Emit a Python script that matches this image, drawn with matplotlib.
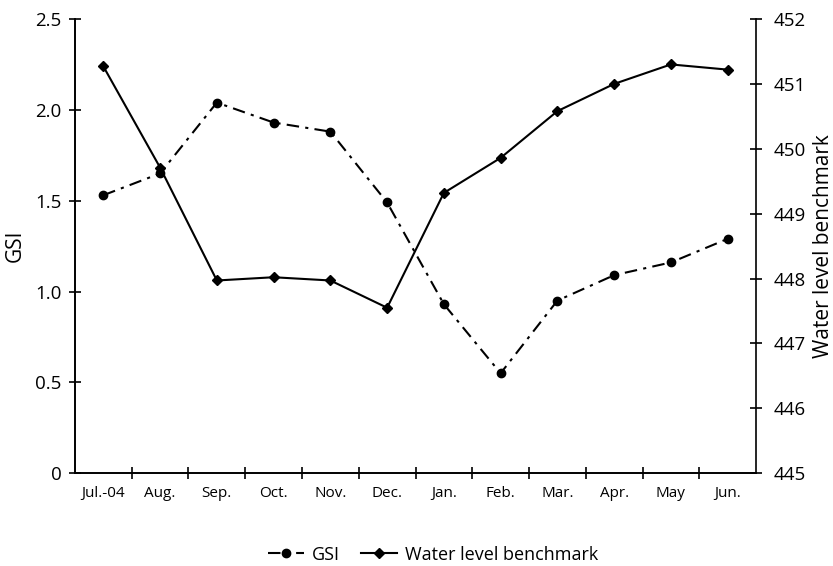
import matplotlib
matplotlib.use("Agg")
import matplotlib.pyplot as plt
import numpy as np

plt.rcParams['font.family'] = ['Open Sans', 'DejaVu Sans']

months = ["Jul.-04", "Aug.", "Sep.", "Oct.", "Nov.", "Dec.",
          "Jan.", "Feb.", "Mar.", "Apr.", "May", "Jun."]
gsi = [1.53, 1.65, 2.04, 1.93, 1.88, 1.49, 0.93, 0.55, 0.95, 1.09, 1.16, 1.29]
water = [451.27, 449.71, 447.97, 448.02, 447.97, 447.55,
         449.32, 449.86, 450.58, 451.0, 451.3, 451.22]

x = np.arange(len(months))

fig = plt.figure(figsize=(8.33, 5.66), dpi=100)
ax = fig.add_axes([0.090, 0.164, 0.8176, 0.8024])
ax2 = ax.twinx()

l1, = ax.plot(x, gsi, color="black", lw=1.5, linestyle=(0, (6, 3, 1.5, 3)),
              marker="o", ms=6, label="GSI")
l2, = ax2.plot(x, water, color="black", lw=1.5, marker="D", ms=5,
               label="Water level benchmark")

ax.set_xlim(-0.5, len(months) - 0.5)
ax.set_ylim(0, 2.5)
ax2.set_ylim(445, 452)
ax.set_yticks([0, 0.5, 1.0, 1.5, 2.0, 2.5])
ax.set_yticklabels(["0", "0.5", "1.0", "1.5", "2.0", "2.5"])
ax2.set_yticks(range(445, 453))

# category boundaries get the tick marks, labels sit in between
ax.set_xticks(np.arange(0.5, len(months) - 0.5, 1.0))
ax.set_xticklabels([])
ax.set_xticks(x, minor=True)
ax.set_xticklabels(months, minor=True, fontsize=11)
ax.tick_params(axis="x", which="minor", length=0, pad=9)
ax.tick_params(axis="x", which="major", direction="inout", length=9, width=1.2)
ax.tick_params(axis="y", direction="inout", length=9, width=1.2,
               labelsize=13.5, pad=5)
ax2.tick_params(axis="y", direction="inout", length=9, width=1.2,
                labelsize=13.5, pad=8)

for a in (ax, ax2):
    a.spines["top"].set_visible(False)
    for s in a.spines.values():
        s.set_linewidth(1.2)
ax.spines["right"].set_visible(False)

ax.set_ylabel("GSI", fontsize=15, labelpad=7)
ax2.set_ylabel("Water level benchmark", fontsize=15, labelpad=5)

fig.legend(handles=[l1, l2], loc="center", bbox_to_anchor=(0.52, 0.02),
           ncol=2, frameon=False, fontsize=13, handlelength=2.0,
           columnspacing=1.2, handletextpad=0.4)

fig.savefig("out.png", dpi=100)
